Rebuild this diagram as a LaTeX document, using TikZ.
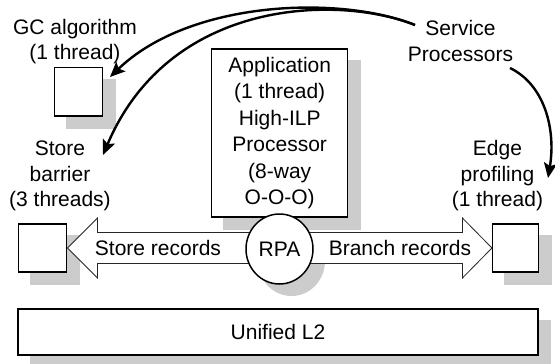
\documentclass[tikz,border=0pt]{standalone}
\usepackage{fontspec}
\setmainfont{Liberation Sans}
\usetikzlibrary{arrows.meta,calc,shapes.geometric,backgrounds}
\definecolor{shadowc}{RGB}{204,204,204}
\begin{document}
\begin{tikzpicture}[x=1pt,y=-1pt,
  every node/.style={font=\fontsize{21}{25.5}\selectfont, inner sep=0pt},
  box/.style={draw=black, line width=1.5pt, fill=white, inner sep=0pt},
  lbl/.style={align=center},
  shadowfill/.style={fill=shadowc},
  conn/.style={line width=2.4pt, -{Stealth[length=15pt,width=13pt,inset=3pt]}},
  blockarrow/.style={draw=black!85, line width=0.8pt, fill=white, line join=miter}
]
\useasboundingbox (0,0) rectangle (555,364);

% boxes
\node[box, minimum width=48.4pt, minimum height=48.7pt] (gc) at (78.5,91.7) {};
\node[box, minimum width=136pt, minimum height=168pt, align=center,
      font=\fontsize{21}{26.5}\selectfont] (app) at (279.7,133)
      {Application\\(1 thread)\\High-ILP\\Processor\\(8-way\\O-O-O)};
\node[box, minimum width=48.4pt, minimum height=48pt] (store) at (42.5,248) {};
\node[box, minimum width=45.6pt, minimum height=48pt] (edge) at (515.5,248) {};
\node[box, minimum width=520pt, minimum height=46pt] (l2) at (278,332) {Unified L2};

% block double arrow between store and edge boxes
\draw[blockarrow] (store.east) -- ++(30,-30) -- ++(0,14.5)
  -- ($(edge.west)+(-29.5,-15.5)$) -- ++(0,-14.5) -- (edge.west)
  -- ++(-29.5,30) -- ++(0,-14.5) -- ($(store.east)+(30,15.5)$)
  -- ++(0,14.5) -- cycle;

\node[draw=black, line width=1.5pt, fill=white, ellipse, minimum width=67pt,
      minimum height=70pt] (rpa) at (279.5,249) {RPA};
\node (srec) at (158,248) {Store records};
\node (brec) at (400,248) {Branch records};

% shadows
\begin{scope}[on background layer]
  \foreach \n in {gc,app,store,edge,l2}{
    \fill[shadowfill] ($(\n.south west)+(12.5,12)$) rectangle ($(\n.north east)+(12.5,12)$);
  }
  \fill[shadowfill] ($(rpa.center)+(12,12)$) ellipse [x radius=33.5pt, y radius=35pt];
\end{scope}

% labels
\node[lbl] (gcl) at (75,41.5) {GC algorithm\\(1 thread)};
\node[lbl] (sbl) at (60,176) {Store\\barrier\\(3 threads)};
\node[lbl] (edl) at (497.5,176) {Edge\\profiling\\(1 thread)};
\node[lbl] (sp) at (460.5,41) {Service\\Processors};

% curved connectors
\coordinate (c0) at (415,25);
\coordinate (c1) at (110,77);
\coordinate (c2) at (103,155);
\coordinate (c3) at (510,68);
\coordinate (c4) at (548,178);
\draw[conn] (c0) .. controls (340,-5) and (190,0) .. (c1);
\draw[conn] (c0) .. controls (340,-5) and (170,-3) .. (c2);
\draw[conn] (c3) .. controls (545,85) and (556,130) .. (c4);
\end{tikzpicture}
\end{document}
